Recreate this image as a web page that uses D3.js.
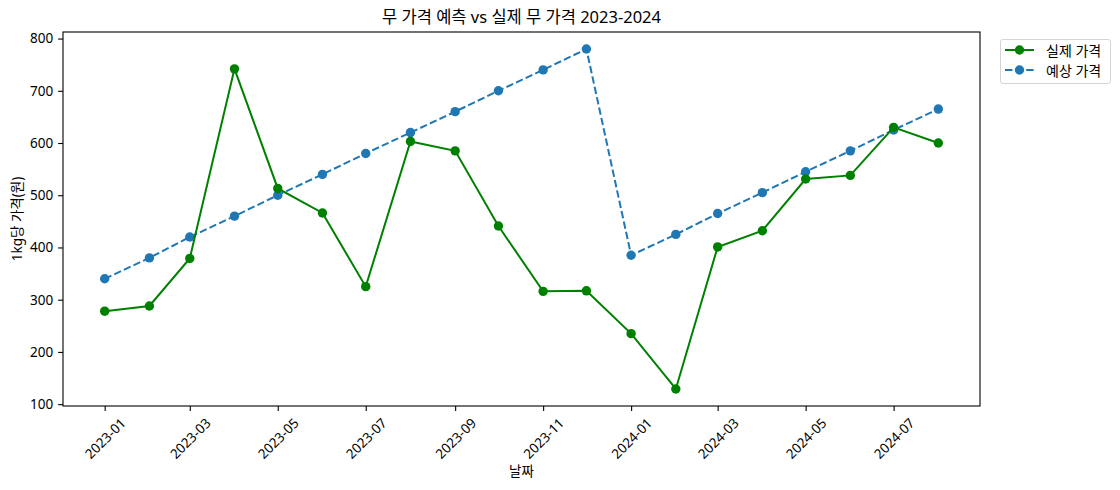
<!DOCTYPE html>
<html>
<head>
<meta charset="utf-8">
<script src="https://cdn.jsdelivr.net/npm/d3@7"></script>
<style>
  body { margin: 0; background: #fff; }
  svg text { font-family: "Noto Sans", "Noto Sans CJK KR", sans-serif; fill: #000; }
</style>
</head>
<body>
<div id="chart"></div>
<script>
// months shown on the chart
const months = ['2023-01', '2023-02', '2023-03', '2023-04', '2023-05', '2023-06', '2023-07',
  '2023-08', '2023-09', '2023-10', '2023-11', '2023-12', '2024-01', '2024-02', '2024-03',
  '2024-04', '2024-05', '2024-06', '2024-07', '2024-08'];
// actual radish price per kg
const actualPrice = [278, 288, 379, 742, 513, 466, 325, 603, 585, 441, 316, 317,
  235, 129, 401, 432, 531, 538, 630, 600];
// predicted price per kg
const predictedPrice = [340, 380, 420, 460, 500, 540, 580, 620, 660, 700, 740, 780,
  385, 425, 465, 505, 545, 585, 625, 665];
const yTicks = [100, 200, 300, 400, 500, 600, 700, 800];
const seriesNames = ['실제 가격', '예상 가격'];

const W = 1120, H = 490;
const margin = { top: 32, right: 140, bottom: 84, left: 63 };
const plotW = W - margin.left - margin.right;   // 917
const plotH = H - margin.top - margin.bottom;   // 374
const dotR = 4.7;

const parse = d3.timeParse('%Y-%m');
const dates = months.map(parse);

const svg = d3.select('#chart').append('svg')
  .attr('width', W).attr('height', H);
const g = svg.append('g').attr('transform', `translate(${margin.left},${margin.top})`);

// matplotlib style 5% margins
const tMin = +dates[0], tMax = +dates[dates.length - 1];
const tPad = (tMax - tMin) * 0.05;
const x = d3.scaleTime()
  .domain([new Date(tMin - tPad), new Date(tMax + tPad)])
  .range([0, plotW]);

const allVals = actualPrice.concat(predictedPrice);
const vMin = d3.min(allVals), vMax = d3.max(allVals);
const vPad = (vMax - vMin) * 0.05;
const y = d3.scaleLinear()
  .domain([vMin - vPad, vMax + vPad])
  .range([plotH, 0]);

// axes
const tickDates = months.filter((m, i) => i % 2 === 0).map(parse);
const xAxis = g.append('g')
  .attr('transform', `translate(0,${plotH})`)
  .call(d3.axisBottom(x).tickValues(tickDates).tickFormat(d3.timeFormat('%Y-%m'))
    .tickSize(4.9).tickPadding(4.9));
xAxis.select('.domain').remove();
xAxis.selectAll('line').attr('stroke', '#000').attr('stroke-width', 1.1);
xAxis.selectAll('text')
  .style('font-size', '13.5px')
  .attr('text-anchor', 'middle')
  .attr('dominant-baseline', 'central')
  .attr('y', null).attr('dy', null)
  .each(function () {
    const w = this.getComputedTextLength();
    const h = 13;
    const half = (w + h) / (2 * Math.SQRT2);
    const cy = 4.9 + 4.9 + half;
    d3.select(this).attr('transform', `translate(0,${cy}) rotate(-45)`);
  });

const yAxis = g.append('g')
  .call(d3.axisLeft(y).tickValues(yTicks).tickSize(4.9).tickPadding(4.9));
yAxis.select('.domain').remove();
yAxis.selectAll('line').attr('stroke', '#000').attr('stroke-width', 1.1);
yAxis.selectAll('text').style('font-size', '13.5px');

// frame
g.append('rect')
  .attr('x', 0).attr('y', 0).attr('width', plotW).attr('height', plotH)
  .attr('fill', 'none').attr('stroke', '#000').attr('stroke-width', 1.1);

// lines
const line = d3.line().x((d, i) => x(dates[i])).y(d => y(d));

g.append('path').datum(predictedPrice)
  .attr('d', line)
  .attr('fill', 'none').attr('stroke', '#1f77b4').attr('stroke-width', 2)
  .attr('stroke-dasharray', '7.4,3.2');
g.selectAll('.pdot').data(predictedPrice).enter().append('circle')
  .attr('cx', (d, i) => x(dates[i])).attr('cy', d => y(d)).attr('r', dotR)
  .attr('fill', '#1f77b4');

g.append('path').datum(actualPrice)
  .attr('d', line)
  .attr('fill', 'none').attr('stroke', 'green').attr('stroke-width', 2);
g.selectAll('.adot').data(actualPrice).enter().append('circle')
  .attr('cx', (d, i) => x(dates[i])).attr('cy', d => y(d)).attr('r', dotR)
  .attr('fill', 'green');

// title and labels
svg.append('text')
  .attr('x', margin.left + plotW / 2).attr('y', 23)
  .attr('text-anchor', 'middle')
  .style('font-size', '16.5px')
  .text('무 가격 예측 vs 실제 무 가격 2023-2024');

svg.append('text')
  .attr('x', margin.left + plotW / 2).attr('y', 471)
  .attr('text-anchor', 'middle').attr('dominant-baseline', 'central')
  .style('font-size', '13.5px')
  .text('날짜');

svg.append('text')
  .attr('transform', `translate(17,${margin.top + plotH / 2}) rotate(-90)`)
  .attr('text-anchor', 'middle').attr('dominant-baseline', 'central')
  .style('font-size', '13.5px')
  .text('1kg당 가격(원)');

// legend
const legend = svg.append('g').attr('transform', 'translate(1000,39)');
legend.append('rect')
  .attr('x', 0.5).attr('y', 0.5).attr('width', 110).attr('height', 44).attr('rx', 2.5)
  .attr('fill', 'rgba(255,255,255,0.8)').attr('stroke', '#d5d5d5');
const legendItems = [
  { name: seriesNames[0], color: 'green', dash: null },
  { name: seriesNames[1], color: '#1f77b4', dash: '7.4,3.2' }
];
legendItems.forEach((item, i) => {
  const row = legend.append('g').attr('transform', `translate(0,${11 + i * 20})`);
  row.append('line')
    .attr('x1', 5).attr('x2', 34).attr('y1', 0).attr('y2', 0)
    .attr('stroke', item.color).attr('stroke-width', 2)
    .attr('stroke-dasharray', item.dash);
  row.append('circle').attr('cx', 19.5).attr('cy', 0).attr('r', dotR).attr('fill', item.color);
  row.append('text')
    .attr('x', 46).attr('y', 0).attr('dominant-baseline', 'central')
    .style('font-size', '14px')
    .text(item.name);
});
</script>
</body>
</html>
